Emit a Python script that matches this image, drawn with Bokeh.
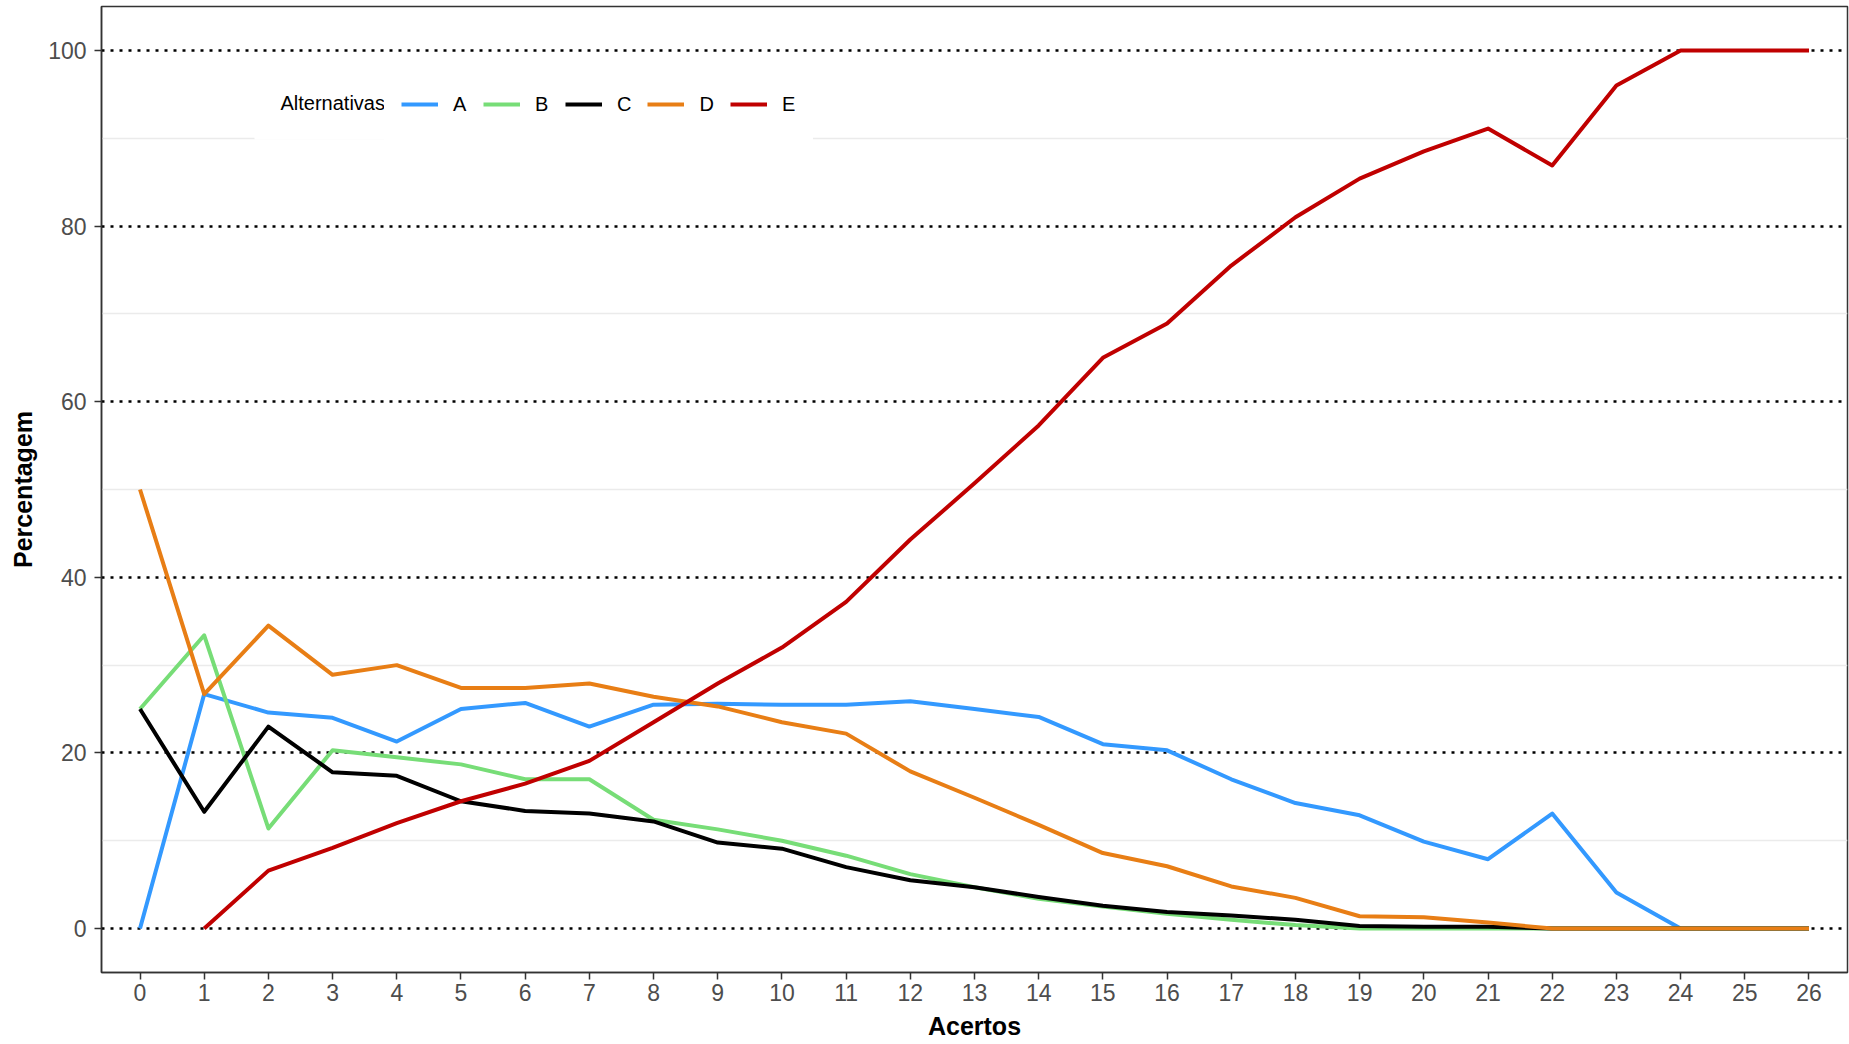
import math
from bokeh.plotting import figure
from bokeh.models import Range1d, FixedTicker, Legend, LegendItem, Label
from bokeh.embed import file_html
from bokeh.resources import INLINE

nan = float("nan")

# ---- data ----
acertos = list(range(27))
A = [0, 26.7, 24.6, 24.0, 21.3, 25.0, 25.7, 23.0, 25.5, 25.6, 25.5, 25.5, 25.9, 25.0,
     24.1, 21.0, 20.3, 17.0, 14.3, 12.9, 9.9, 7.9, 13.1, 4.1, 0, 0, 0]
B = [25.0, 33.4, 11.4, 20.3, 19.5, 18.7, 17.0, 17.0, 12.4, 11.3, 10.0, 8.3, 6.2, 4.7,
     3.4, 2.5, 1.7, 1.0, 0.4, 0, 0, 0, 0, 0, 0, 0, 0]
C = [25.0, 13.3, 23.0, 17.8, 17.4, 14.5, 13.4, 13.1, 12.2, 9.8, 9.1, 7.0, 5.5, 4.7,
     3.6, 2.6, 1.9, 1.5, 1.0, 0.3, 0.2, 0.2, 0, 0, 0, 0, 0]
D = [50.0, 26.7, 34.5, 28.9, 30.0, 27.4, 27.4, 27.9, 26.4, 25.3, 23.5, 22.2, 17.9, 14.9,
     11.8, 8.6, 7.1, 4.8, 3.5, 1.4, 1.3, 0.7, 0, 0, 0, 0, 0]
E = [nan, 0, 6.6, 9.2, 12.0, 14.5, 16.5, 19.1, 23.5, 27.9, 32.0, 37.2, 44.3, 50.7,
     57.3, 65.0, 68.9, 75.5, 81.0, 85.4, 88.5, 91.1, 86.9, 96.0, 100, 100, 100]

series_names = ["A", "B", "C", "D", "E"]
series_values = [A, B, C, D, E]
series_colors = ["#3399FF", "#77DD77", "#000000", "#E87E15", "#C00000"]
y_ticks = [0, 20, 40, 60, 80, 100]
y_minor_ticks = [10, 30, 50, 70, 90]

FONT = "Liberation Sans"

p = figure(width=1849, height=1044, output_backend="svg", toolbar_location=None,
           x_range=Range1d(-0.6, 26.6), y_range=Range1d(-5, 105),
           min_border_left=101, min_border_right=2, min_border_top=6, min_border_bottom=72,
           x_axis_label="Acertos", y_axis_label="Percentagem")

p.background_fill_color = "white"
p.border_fill_color = "white"
p.outline_line_color = "#333333"
p.outline_line_width = 1.5

yt = FixedTicker(ticks=y_ticks, minor_ticks=y_minor_ticks)
p.yaxis.ticker = yt
p.ygrid.ticker = yt
p.xaxis.ticker = FixedTicker(ticks=acertos)

p.xgrid.visible = False
p.ygrid.grid_line_color = "black"
p.ygrid.grid_line_dash = "3 6"
p.ygrid.grid_line_width = 2.5
p.ygrid.minor_grid_line_color = "#EBEBEB"
p.ygrid.minor_grid_line_width = 1.5

for ax in (p.xaxis, p.yaxis):
    ax.axis_line_color = "#333333"
    ax.axis_line_width = 1.5
    ax.major_tick_line_color = "#333333"
    ax.major_tick_line_width = 1.5
    ax.major_tick_out = 7
    ax.major_tick_in = 0
    ax.minor_tick_line_color = None
    ax.major_label_text_font = FONT
    ax.major_label_text_font_size = "23px"
    ax.major_label_text_color = "#4D4D4D"
    ax.axis_label_text_font = FONT
    ax.axis_label_text_font_size = "25px"
    ax.axis_label_text_font_style = "bold"
    ax.axis_label_text_color = "black"

p.xaxis.major_label_standoff = 4
p.xaxis.axis_label_standoff = 8
p.yaxis.major_label_standoff = 8
p.yaxis.axis_label_standoff = 8

items = []
for name, vals, color in zip(series_names, series_values, series_colors):
    r = p.line(acertos, vals, line_color=color, line_width=4.0, line_join="round")
    items.append(LegendItem(label=name, renderers=[r]))

title_label = Label(x=153, y=870, x_units="screen", y_units="screen", text="Alternativas",
                    text_align="left", text_baseline="middle", text_font=FONT,
                    text_font_size="20px", text_color="black",
                    background_fill_color="white", background_fill_alpha=1.0, padding=26)
p.add_layout(title_label)

legend = Legend(items=items, orientation="horizontal", location=(283, 829),
                padding=16, spacing=16, glyph_width=37, glyph_height=44,
                label_standoff=15, label_width=14, label_text_font=FONT,
                label_text_font_size="20px", label_text_color="black",
                background_fill_color="white", background_fill_alpha=1.0,
                border_line_color="white", border_line_width=1, margin=0)
p.add_layout(legend)

open("out.html", "w").write(file_html(p, INLINE))
